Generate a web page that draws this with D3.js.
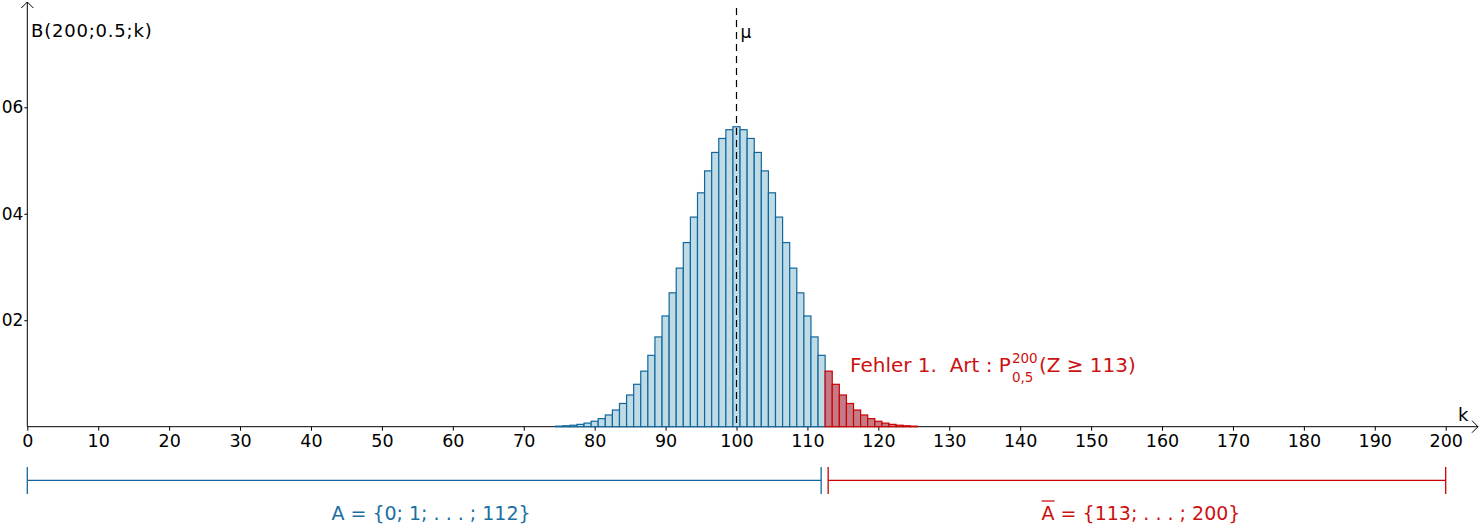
<!DOCTYPE html>
<html><head><meta charset="utf-8">
<script src="https://cdn.jsdelivr.net/npm/d3@7"></script>
<style>
html,body{margin:0;padding:0;background:#fff;}
svg{display:block;}
text{font-family:"DejaVu Sans",sans-serif;}
</style></head>
<body><svg id="c" width="1480" height="528"></svg>
<script>
// ---- data ----
const kMin = 75;
// B(200;0.5;k) for k = 75 .. 125 (values read / estimated), all other k ~ 0
const probs = [
 0.000105,0.000173,0.000278,0.000439,0.000678,0.001025,0.001519,0.002204,0.003133,
 0.004364,0.005956,0.007964,0.010436,0.013401,0.016864,0.020799,0.025141,0.029787,0.034591,
 0.039375,0.043934,0.048053,0.051521,0.054149,0.055790,0.056348,0.055790,0.054149,0.051521,
 0.048053,0.043934,0.039375,0.034591,0.029787,0.025141,0.020799,0.016864,0.013401,0.010436,
 0.007964,0.005956,0.004364,0.003133,0.002204,0.001519,0.001025,0.000678,0.000439,0.000278,
 0.000173,0.000105
];
const kValues = d3.range(0, 201);
const critical = 113;
const mu = 100;
const xTicks = [0,10,20,30,40,50,60,70,80,90,100,110,120,130,140,150,160,170,180,190,200];
const yTicks = [0.02,0.04,0.06];
const yTickLabels = ["02","04","06"];
const acceptLabel = "A = {0; 1; . . . ; 112}";
const rejectLabel = "A = {113; . . . ; 200}";

const blueStroke = "#11679c", blueFill = "#bfdbe6";
const redStroke = "#cc0000", redFill = "#c57b87";

const svg = d3.select("#c");
const x = d3.scaleLinear().domain([0,200]).range([27.3,1445.7]);
const y = d3.scaleLinear().domain([0,0.06]).range([426.7,107.3]);
const bw = x(1)-x(0);
const prob = k => (k>=kMin && k<kMin+probs.length) ? probs[k-kMin] : 0;

// axes
const y0 = y(0), xa = x(0);
svg.append("line").attr("x1",xa).attr("x2",1478).attr("y1",y0).attr("y2",y0).attr("stroke","#000");
svg.append("path").attr("d",`M1472,${y0-6}L1478,${y0}L1472,${y0+6}`).attr("fill","none").attr("stroke","#000");
svg.append("line").attr("x1",xa).attr("x2",xa).attr("y1",y0).attr("y2",2).attr("stroke","#000");
svg.append("path").attr("d",`M${xa-6},8L${xa},2L${xa+6},8`).attr("fill","none").attr("stroke","#000");

const gx = svg.append("g").attr("transform",`translate(0,${y0})`)
  .call(d3.axisBottom(x).tickValues(xTicks).tickSize(4).tickPadding(4).tickFormat(d3.format("d")));
gx.select(".domain").remove();
gx.selectAll("text").attr("font-size",17.5).attr("fill","#000").attr("font-family","DejaVu Sans");
gx.selectAll("line").attr("stroke","#000");

const gy = svg.append("g").attr("transform",`translate(${xa},0)`)
  .call(d3.axisLeft(y).tickValues(yTicks).tickSize(3).tickPadding(1).tickFormat((d,i)=>yTickLabels[i]));
gy.select(".domain").remove();
gy.selectAll("text").attr("font-size",17).attr("fill","#000").attr("font-family","DejaVu Sans");
gy.selectAll("line").attr("stroke","#000");

// bars
svg.append("g").selectAll("rect").data(kValues).join("rect")
  .attr("x",k=>x(k)-bw/2).attr("width",bw)
  .attr("y",k=>y(prob(k))).attr("height",k=>y0-y(prob(k)))
  .attr("fill",k=>k>=critical?redFill:blueFill)
  .attr("stroke",k=>k>=critical?redStroke:blueStroke)
  .attr("stroke-width",1.2);

// mu line
svg.append("line").attr("x1",x(mu)).attr("x2",x(mu)).attr("y1",8).attr("y2",y0)
  .attr("stroke","#000").attr("stroke-width",1.2).attr("stroke-dasharray","7,5");
svg.append("text").attr("x",x(mu)+4).attr("y",38).attr("font-size",17).text("μ");

// axis titles
svg.append("text").attr("x",31).attr("y",37).attr("font-size",18).attr("letter-spacing",0.8).text("B(200;0.5;k)");
svg.append("text").attr("x",1458).attr("y",421).attr("font-size",18).text("k");

// annotation
const red = "#cc1111";
const ann = svg.append("text").attr("x",850).attr("y",372).attr("font-size",20).attr("fill",red)
  .attr("xml:space","preserve").style("white-space","pre");
ann.text("Fehler 1.  Art : P");
const annW = ann.node().getComputedTextLength();
svg.append("text").attr("x",850+annW+1).attr("y",363).attr("font-size",13.5).attr("fill",red).text("200");
svg.append("text").attr("x",850+annW+1).attr("y",382).attr("font-size",13.5).attr("fill",red).text("0,5");
const supW = 25;
svg.append("text").attr("x",850+annW+supW+3).attr("y",372).attr("font-size",20).attr("fill",red)
  .style("white-space","pre").text("(Z ≥ 113)");

// bottom brackets
const by = 480.3;
function bracket(a,b,col){
  const g = svg.append("g").attr("stroke",col).attr("stroke-width",1.3);
  g.append("line").attr("x1",a).attr("x2",b).attr("y1",by).attr("y2",by);
  g.append("line").attr("x1",a).attr("x2",a).attr("y1",467).attr("y2",494);
  g.append("line").attr("x1",b).attr("x2",b).attr("y1",467).attr("y2",494);
}
const split = x(critical-1)+bw/2;
bracket(x(0), split-4, blueStroke);
bracket(split+3, x(200), redStroke);

svg.append("text").attr("x",431).attr("y",520).attr("text-anchor","middle")
  .attr("font-size",19).attr("fill","#1a6fa0").text(acceptLabel);
const rl = svg.append("text").attr("x",1141).attr("y",520).attr("text-anchor","middle")
  .attr("font-size",19).attr("fill",red).text(rejectLabel);
// overline on the A
const bb = rl.node().getBBox();
svg.append("line").attr("x1",bb.x).attr("x2",bb.x+13).attr("y1",501).attr("y2",501)
  .attr("stroke",red).attr("stroke-width",1.3);
</script></body></html>
